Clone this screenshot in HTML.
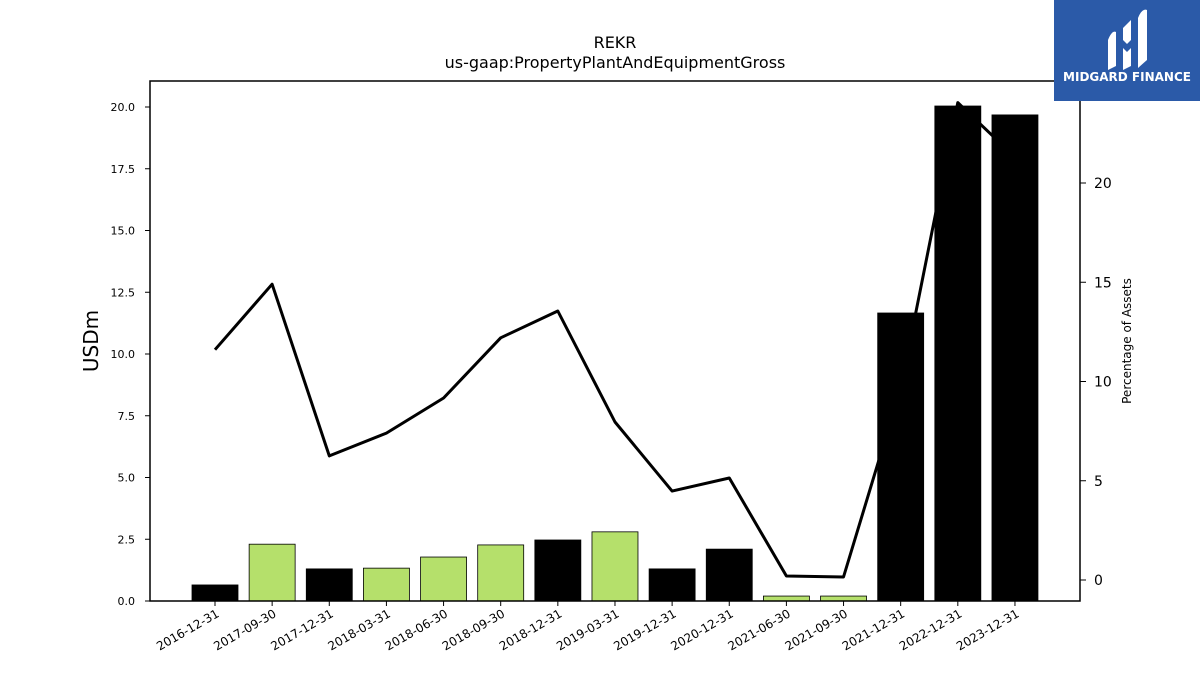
<!DOCTYPE html>
<html><head><meta charset="utf-8"><style>
body{margin:0;background:#fff;font-family:"Liberation Sans","DejaVu Sans",sans-serif}
svg text{font-family:"DejaVu Sans","Liberation Sans",sans-serif}
</style></head><body>
<svg id="c" width="1200" height="675" xmlns="http://www.w3.org/2000/svg">
<rect width="1200" height="675" fill="#fff"/>
<text x="615" y="48" font-size="16" text-anchor="middle">REKR</text>
<text x="615" y="68" font-size="16" text-anchor="middle">us-gaap:PropertyPlantAndEquipmentGross</text>
<text transform="translate(98,341) rotate(-90)" font-size="20" text-anchor="middle">USDm</text>
<text transform="translate(1131,341) rotate(-90)" font-size="12" text-anchor="middle">Percentage of Assets</text>
<g id="marks"></g>
<rect x="150" y="81" width="930" height="520" fill="none" stroke="#000" stroke-width="1.5"/>
<g id="axes"></g>
<g>
<rect x="1054" y="0" width="146" height="101" fill="#2b5aa8"/>
<path d="M1108 40 q4-10 8-8 v34 l-8 4z M1123 28 l8-8 v20 l-4 4 l-4-4z M1123 48 l4 4 l4-4 v18 l-8 4z M1138 18 q4-10 9-8 v50 l-9 8z" fill="#fff"/>
<text x="1127" y="81" font-size="12" font-weight="bold" fill="#fff" text-anchor="middle" font-family="Liberation Sans">MIDGARD FINANCE</text>
</g>
</svg>
<script>
const categories=["2016-12-31","2017-09-30","2017-12-31","2018-03-31","2018-06-30","2018-09-30","2018-12-31","2019-03-31","2019-12-31","2020-12-31","2021-06-30","2021-09-30","2021-12-31","2022-12-31","2023-12-31"];
const barValues=[0.65,2.3,1.3,1.33,1.78,2.27,2.47,2.8,1.3,2.1,0.2,0.2,11.66,20.04,19.68];
const barGreen=[false,true,false,true,true,true,false,true,false,false,true,true,false,false,false];
const pctValues=[11.6,14.9,6.25,7.4,9.17,12.2,13.55,7.96,4.48,5.14,0.2,0.15,9.67,24.05,21.3];
const leftTicks=[0,2.5,5,7.5,10,12.5,15,17.5,20];
const rightTicks=[0,5,10,15,20];
const NS="http://www.w3.org/2000/svg";
const x=i=>215+i*57.14;
const yL=v=>601-v*24.7;
const yR=v=>580-v*19.85;
const marks=document.getElementById('marks'),axes=document.getElementById('axes');
function mk(t,a,p){const e=document.createElementNS(NS,t);for(const k in a)e.setAttribute(k,a[k]);p.appendChild(e);return e;}
const pts=pctValues.map((v,i)=>x(i).toFixed(1)+','+yR(v).toFixed(1)).join(' ');
const line=mk('polyline',{points:pts,fill:'none',stroke:'#000','stroke-width':3,'stroke-linejoin':'round'},marks);


barValues.forEach((v,i)=>{
 const r=mk('rect',{x:x(i)-23,y:yL(v),width:46,height:601-yL(v),fill:barGreen[i]?'#b5e06b':'#000',stroke:'#000','stroke-width':0.8},marks);
 
 
 const t=mk('line',{x1:x(i),x2:x(i),y1:601,y2:606,stroke:'#000'},axes);
 
 
 const l=mk('text',{transform:`translate(${x(i)+5},616) rotate(-30)`,'font-size':12,'text-anchor':'end'},axes);
 l.textContent=categories[i];
 
 
});
leftTicks.forEach(v=>{
 const t=mk('line',{x1:145,x2:150,y1:yL(v),y2:yL(v),stroke:'#000'},axes);
 
 
 const l=mk('text',{x:135,y:yL(v)+4,'font-size':11,'text-anchor':'end'},axes);
 l.textContent=v.toFixed(1);
 
 
});
rightTicks.forEach(v=>{
 const t=mk('line',{x1:1080,x2:1086,y1:yR(v),y2:yR(v),stroke:'#000'},axes);
 
 
 const l=mk('text',{x:1094,y:yR(v)+5,'font-size':14},axes);
 l.textContent=v;
 
 
});
</script>
</body></html>
